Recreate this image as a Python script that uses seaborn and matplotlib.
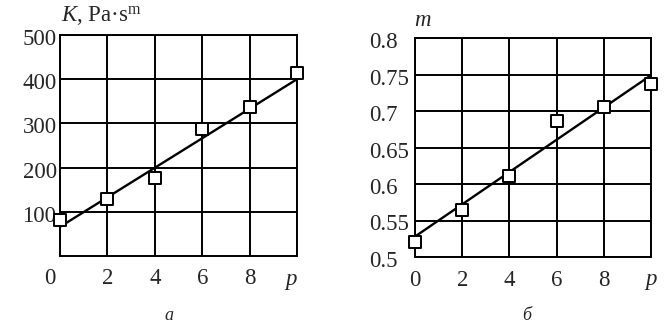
import matplotlib
matplotlib.use("Agg")
import matplotlib.pyplot as plt
import matplotlib.transforms as mtransforms
import seaborn as sns
import pandas as pd

# ---- data ----
p_values = [0, 2, 4, 6, 8, 10]
K_values = [82, 130, 177, 288, 337, 413]
m_values = [0.521, 0.564, 0.611, 0.686, 0.706, 0.737]
fit_p = [0, 10]
fit_K = [66, 400]
fit_m = [0.528, 0.749]
x_ticks = [0, 2, 4, 6, 8, 10]
x_labels = ["0", "2", "4", "6", "8", "p"]
K_ticks = [100, 200, 300, 400, 500]
K_labels = ["100", "200", "300", "400", "500"]
m_ticks = [0.5, 0.55, 0.6, 0.65, 0.7, 0.75, 0.8]
m_labels = ["0.5", "0.55", "0.6", "0.65", "0.7", "0.75", "0.8"]

sns.set_theme(style="white")
plt.rcParams["font.family"] = ["Liberation Serif", "DejaVu Serif"]
plt.rcParams["mathtext.fontset"] = "custom"
plt.rcParams["mathtext.rm"] = "Liberation Serif"
plt.rcParams["mathtext.it"] = "Liberation Serif:italic"

FS = 16.5
fig = plt.figure(figsize=(6.72, 3.34), dpi=100)
axA = fig.add_axes([60/672, 1-256/334, (297-60)/672, (256-35)/334])
axB = fig.add_axes([415/672, 1-257/334, (651-415)/672, (257-38)/334])

dfK = pd.DataFrame({"p": p_values, "v": K_values})
dfm = pd.DataFrame({"p": p_values, "v": m_values})
fitK = pd.DataFrame({"p": fit_p, "v": fit_K})
fitm = pd.DataFrame({"p": fit_p, "v": fit_m})

def shift(lab, dx, dy):
    lab.set_transform(lab.get_transform() +
                      mtransforms.ScaledTranslation(dx/100, dy/100, fig.dpi_scale_trans))

def draw(ax, df, fit, yticks, ylabels, ylim, ypad):
    ax.set_axisbelow(True)
    ax.grid(True, color="black", linewidth=1.4)
    sns.lineplot(data=fit, x="p", y="v", ax=ax, color="black", linewidth=1.7, zorder=3)
    sns.scatterplot(data=df, x="p", y="v", ax=ax, marker="s", s=70,
                    facecolor="white", edgecolor="black", linewidth=1.4,
                    zorder=4, clip_on=False)
    ax.set_xlim(0, 10)
    ax.set_ylim(*ylim)
    ax.set_xticks(x_ticks, x_labels, fontsize=FS)
    ax.set_yticks(yticks, ylabels, fontsize=FS, ha="left")
    ax.get_xticklabels()[-1].set_fontstyle("italic")
    ax.tick_params(axis="x", length=0, pad=9)
    ax.tick_params(axis="y", length=0, pad=ypad)
    for lab in ax.get_yticklabels():
        shift(lab, 0, -2)
    ax.set_xlabel("")
    ax.set_ylabel("")
    for s in ax.spines.values():
        s.set_color("black")
        s.set_linewidth(1.4)

draw(axA, dfK, fitK, K_ticks, K_labels, (0, 500), 27)
draw(axB, dfm, fitm, m_ticks, m_labels, (0.5, 0.8), 33)

# shift the "0" and "p" of the left panel slightly to the left
shift(axA.get_xticklabels()[0], -10, 0)
shift(axA.get_xticklabels()[-1], -6, 0)

fig.text(61/672, 1-16/334, r"$K$, Pa·s$^{\mathrm{m}}$", fontsize=FS, ha="left", va="center")
fig.text(422/672, 1-21/334, "m", fontsize=FS, fontstyle="italic", ha="center", va="center")
fig.text(169/672, 1-316/334, "а", fontsize=13, fontstyle="italic", ha="center", va="center")
fig.text(527/672, 1-316/334, "б", fontsize=13, fontstyle="italic", ha="center", va="center")

fig.savefig("out.png", dpi=100, facecolor="white")
